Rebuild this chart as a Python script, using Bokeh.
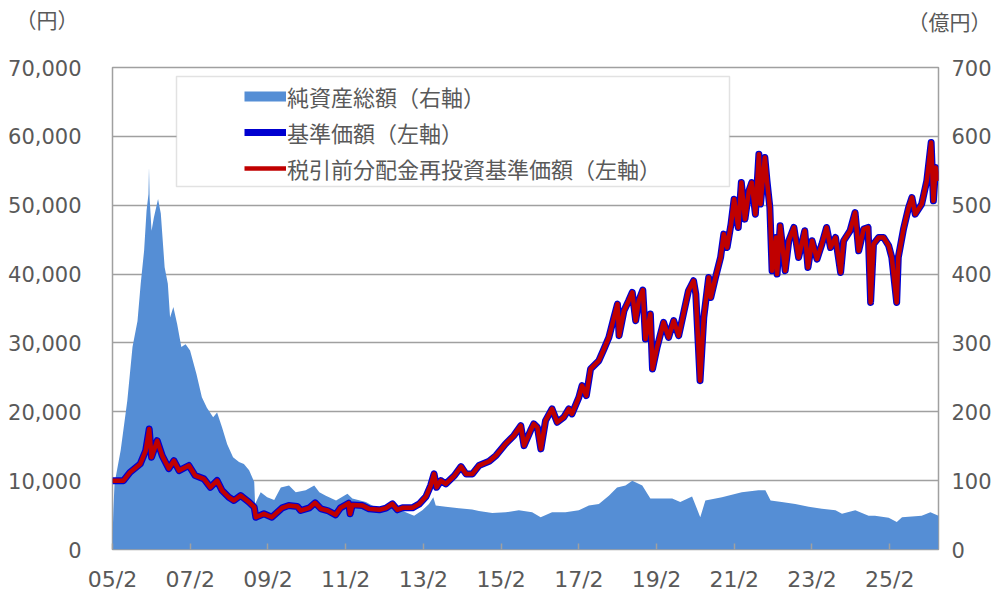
import pandas as pd
from bokeh.plotting import figure
from bokeh.models import (Range1d, LinearAxis, FixedTicker, NumeralTickFormatter,
                          Legend, LegendItem, Label, BoxAnnotation, ColumnDataSource)
from bokeh.embed import file_html
from bokeh.resources import INLINE

# ---------------- data ----------------
nav_dates = [
    "2005-02-01", "2005-05-15", "2005-07-15", "2005-10-20", "2005-12-10", "2006-01-12",
    "2006-02-03", "2006-03-28", "2006-05-15", "2006-07-15", "2006-09-01", "2006-10-20",
    "2007-01-20", "2007-03-20", "2007-06-10", "2007-08-10", "2007-10-12", "2007-11-28",
    "2008-01-30", "2008-03-18", "2008-05-20", "2008-08-08", "2008-09-25", "2008-10-10",
    "2008-12-25", "2009-03-10", "2009-06-15", "2009-08-15", "2009-11-05", "2009-12-05",
    "2010-02-25", "2010-04-20", "2010-06-15", "2010-08-15", "2010-10-30", "2010-12-15",
    "2011-03-01", "2011-03-15", "2011-04-05", "2011-07-10", "2011-09-10", "2011-12-15",
    "2012-02-15", "2012-04-15", "2012-06-01", "2012-07-20", "2012-10-20", "2012-12-25",
    "2013-02-25", "2013-04-10", "2013-05-12", "2013-06-05", "2013-07-15", "2013-08-30",
    "2013-11-20", "2014-01-20", "2014-03-08", "2014-05-08", "2014-07-08", "2014-10-12",
    "2014-12-15", "2015-03-15", "2015-06-01", "2015-08-05", "2015-09-05", "2015-11-05",
    "2015-12-05", "2016-01-08", "2016-02-10", "2016-03-25", "2016-05-25", "2016-07-12",
    "2016-09-12", "2016-10-30", "2016-11-28", "2017-02-01", "2017-03-03", "2017-04-12",
    "2017-05-22", "2017-08-08", "2017-09-25", "2017-11-10", "2017-12-28", "2018-01-30",
    "2018-02-14", "2018-04-01", "2018-05-15", "2018-06-18", "2018-07-20", "2018-08-18",
    "2018-09-25", "2018-10-20", "2018-12-05", "2018-12-25", "2019-02-06", "2019-04-08",
    "2019-05-25", "2019-07-12", "2019-08-28", "2019-10-15", "2019-11-28", "2020-01-15",
    "2020-02-05", "2020-03-16", "2020-04-20", "2020-06-05", "2020-06-25", "2020-08-08",
    "2020-09-25", "2020-10-25", "2020-11-25", "2021-01-01", "2021-01-30", "2021-03-10",
    "2021-04-08", "2021-05-12", "2021-06-18", "2021-07-15", "2021-08-18", "2021-09-20",
    "2021-10-05", "2021-11-15", "2021-12-05", "2022-01-01", "2022-01-22", "2022-02-28",
    "2022-03-10", "2022-04-08", "2022-05-25", "2022-06-28", "2022-08-15", "2022-09-28",
    "2022-11-25", "2022-12-25", "2023-02-02", "2023-03-20", "2023-05-05", "2023-06-18",
    "2023-07-25", "2023-09-10", "2023-10-28", "2023-11-25", "2024-01-25", "2024-03-12",
    "2024-04-15", "2024-06-01", "2024-07-12", "2024-08-05", "2024-09-01", "2024-10-20",
    "2024-12-05", "2025-01-22", "2025-02-20", "2025-04-07", "2025-04-22", "2025-06-10",
    "2025-07-28", "2025-08-28", "2025-09-28", "2025-11-28", "2026-01-15", "2026-02-25",
    "2026-03-18", "2026-04-08", "2026-05-05",
]
nav_values = [
    10000, 10000, 11200, 12430, 14360, 17500,
    13400, 15800, 13600, 11750, 12900, 11460,
    12200, 10740, 10260, 9040, 10010, 8560,
    7590, 7110, 7840, 6860, 6140, 4690,
    5180, 4690, 6050, 6380, 6240, 5660,
    6050, 6780, 5900, 5660, 5030, 6050,
    6720, 5180, 6480, 6380, 5900, 5760,
    6000, 6630, 5760, 6050, 6050, 6630,
    7690, 9290, 10980, 9040, 10010, 9530,
    10740, 12040, 10980, 10980, 12190, 12810,
    13640, 15340, 16540, 17990, 15090, 17270,
    18240, 17750, 14610, 18720, 20420, 18470,
    19200, 20420, 19690, 22100, 23800, 22350,
    26220, 27420, 29120, 30810, 33700, 35650,
    31050, 34680, 36130, 37330, 33230, 36130,
    37680, 30570, 34200, 26220, 29360, 32980,
    30810, 33230, 31050, 34440, 37580, 39030,
    37100, 24520, 33700, 39510, 36610, 39510,
    42410, 45800, 43860, 47250, 50880, 46770,
    53290, 47980, 52090, 53290, 48700, 57410,
    50160, 56930, 53540, 49670, 40480, 45310,
    40000, 47010, 40480, 44830, 46770, 42410,
    46290, 40960, 44830, 42180, 44350, 46770,
    43860, 45310, 40240, 44830, 46290, 48940,
    43380, 46530, 46770, 35880, 44350, 45310,
    45310, 44110, 42410, 35880, 42410, 46530,
    49670, 51120, 48700, 50160, 53540, 59100,
    50640, 55470, 53540,
]
# pre-tax reinvested NAV coincides with the NAV in the picture
reinv_values = [
    10000, 10000, 11200, 12430, 14360, 17500,
    13400, 15800, 13600, 11750, 12900, 11460,
    12200, 10740, 10260, 9040, 10010, 8560,
    7590, 7110, 7840, 6860, 6140, 4690,
    5180, 4690, 6050, 6380, 6240, 5660,
    6050, 6780, 5900, 5660, 5030, 6050,
    6720, 5180, 6480, 6380, 5900, 5760,
    6000, 6630, 5760, 6050, 6050, 6630,
    7690, 9290, 10980, 9040, 10010, 9530,
    10740, 12040, 10980, 10980, 12190, 12810,
    13640, 15340, 16540, 17990, 15090, 17270,
    18240, 17750, 14610, 18720, 20420, 18470,
    19200, 20420, 19690, 22100, 23800, 22350,
    26220, 27420, 29120, 30810, 33700, 35650,
    31050, 34680, 36130, 37330, 33230, 36130,
    37680, 30570, 34200, 26220, 29360, 32980,
    30810, 33230, 31050, 34440, 37580, 39030,
    37100, 24520, 33700, 39510, 36610, 39510,
    42410, 45800, 43860, 47250, 50880, 46770,
    53290, 47980, 52090, 53290, 48700, 57410,
    50160, 56930, 53540, 49670, 40480, 45310,
    40000, 47010, 40480, 44830, 46770, 42410,
    46290, 40960, 44830, 42180, 44350, 46770,
    43860, 45310, 40240, 44830, 46290, 48940,
    43380, 46530, 46770, 35880, 44350, 45310,
    45310, 44110, 42410, 35880, 42410, 46530,
    49670, 51120, 48700, 50160, 53540, 59100,
    50640, 55470, 53540,
]

asset_dates = [
    "2005-02-01", "2005-02-10", "2005-02-20", "2005-04-19", "2005-06-20", "2005-08-08",
    "2005-09-24", "2005-10-24", "2005-11-25", "2005-12-18", "2006-01-05", "2006-01-10",
    "2006-01-16", "2006-02-03", "2006-02-25", "2006-04-05", "2006-05-01", "2006-06-06",
    "2006-07-06", "2006-07-27", "2006-08-27", "2006-10-02", "2006-11-10", "2006-12-20",
    "2007-01-31", "2007-04-01", "2007-05-22", "2007-07-08", "2007-09-05", "2007-10-12",
    "2007-11-28", "2008-01-15", "2008-03-10", "2008-05-05", "2008-06-20", "2008-08-08",
    "2008-09-25", "2008-10-03", "2008-11-25", "2009-01-25", "2009-04-01", "2009-06-02",
    "2009-08-18", "2009-10-20", "2010-01-22", "2010-04-12", "2010-05-30", "2010-07-30",
    "2010-11-03", "2011-02-18", "2011-04-05", "2011-08-10", "2011-11-12", "2012-02-15",
    "2012-06-18", "2012-08-18", "2012-11-06", "2013-01-22", "2013-03-25", "2013-05-05",
    "2013-05-28", "2013-08-30", "2014-01-01", "2014-05-05", "2014-07-08", "2014-11-10",
    "2015-03-15", "2015-07-18", "2015-11-20", "2016-02-08", "2016-05-25", "2016-09-28",
    "2017-02-01", "2017-05-06", "2017-08-08", "2017-11-10", "2018-01-26", "2018-04-15",
    "2018-06-18", "2018-09-20", "2018-12-05", "2019-02-20", "2019-06-28", "2019-09-12",
    "2020-01-01", "2020-03-18", "2020-05-05", "2020-10-08", "2021-04-12", "2021-09-16",
    "2021-11-20", "2022-01-08", "2022-04-22", "2022-08-28", "2023-01-01", "2023-05-05",
    "2023-09-10", "2023-11-10", "2024-03-14", "2024-07-17", "2024-09-15", "2025-01-22",
    "2025-04-08", "2025-05-27", "2025-11-28", "2026-02-18", "2026-05-05",
]
asset_values = [
    15, 60, 96, 144, 216, 294,
    332, 386, 434, 492, 516, 555,
    510, 463, 482, 509, 488, 410,
    386, 337, 352, 327, 294, 298,
    289, 255, 221, 206, 192, 199,
    177, 153, 134, 127, 124, 115,
    98, 66, 83, 76, 72, 90,
    93, 83, 86, 93, 83, 78,
    71, 81, 74, 69, 61, 62,
    59, 54, 49, 57, 66, 76,
    64, 62, 60, 58, 56, 53,
    54, 57, 54, 47, 54, 54,
    57, 64, 66, 78, 90, 93,
    100, 93, 74, 74, 74, 69,
    77, 47, 71, 76, 83, 86,
    86, 71, 69, 66, 62, 59,
    57, 52, 57, 49, 49, 46,
    40, 47, 49, 54, 49,
]

tick_dates = ["2005-02-01", "2007-02-01", "2009-02-01", "2011-02-01", "2013-02-01", "2015-02-01",
              "2017-02-01", "2019-02-01", "2021-02-01", "2023-02-01", "2025-02-01"]
tick_labels = ["05/2", "07/2", "09/2", "11/2", "13/2", "15/2", "17/2", "19/2", "21/2", "23/2", "25/2"]
left_ticks = [0, 10000, 20000, 30000, 40000, 50000, 60000, 70000]
right_ticks = [0, 100, 200, 300, 400, 500, 600, 700]
legend_labels = ["純資産総額（右軸）", "基準価額（左軸）", "税引前分配金再投資基準価額（左軸）"]
left_unit = "（円）"
right_unit = "（億円）"

# ---------------- styles / layout ----------------
TXT = "#595959"
RULE = "#A0A0A0"
AREA = "#558ED5"
BLUE = "#0000D0"
RED = "#C00000"
NUM_FONT = "DejaVu Sans"
JP_FONT = "Noto Sans CJK JP"

W, H = 994, 595
FL, FT, FR, FB = 112, 67, 54, 46          # borders around the plot frame
FW, FH = W - FL - FR, H - FT - FB          # frame size in px


def ms(d):
    return pd.Timestamp(d).value / 1e6


nav_src = ColumnDataSource(dict(x=pd.to_datetime(nav_dates), nav=nav_values, reinv=reinv_values))
asset_src = ColumnDataSource(dict(x=pd.to_datetime(asset_dates), y=asset_values))

x_start = ms("2005-02-01")
x_end = ms(nav_dates[-1])
Y_MAX = 70000

p = figure(width=W, height=H, x_axis_type="datetime",
           x_range=Range1d(x_start, x_end), y_range=Range1d(0, Y_MAX),
           output_backend="svg", toolbar_location=None,
           min_border_left=FL, min_border_right=FR, min_border_top=FT, min_border_bottom=FB,
           background_fill_color="white", border_fill_color="white")
p.extra_y_ranges = {"right": Range1d(0, 700)}

# renderers
area = p.varea(x="x", y1=0, y2="y", source=asset_src, fill_color=AREA, y_range_name="right")
blue = p.line("x", "nav", source=nav_src, line_color=BLUE, line_width=7, line_join="round")
red = p.line("x", "reinv", source=nav_src, line_color=RED, line_width=4.5, line_join="round")
# legend swatch for the area: hidden renderer of the same data, shown only in the legend
area_key = p.line("x", "y", source=asset_src, y_range_name="right", line_color=AREA,
                  line_width=10, line_cap="butt", visible=False)

# frame & grid
p.outline_line_color = RULE
p.outline_line_width = 1.5
p.xgrid.visible = False
p.ygrid.ticker = FixedTicker(ticks=left_ticks)
p.ygrid.grid_line_color = RULE
p.ygrid.grid_line_width = 1.5

# x axis
xa = p.xaxis[0]
xa.ticker = FixedTicker(ticks=[ms(d) for d in tick_dates])
xa.major_label_overrides = {ms(d): lab for d, lab in zip(tick_dates, tick_labels)}
xa.axis_line_color = None
xa.major_tick_in = 6
xa.major_tick_out = 0
xa.major_tick_line_color = RULE
xa.major_tick_line_width = 1.5
xa.minor_tick_line_color = None
xa.major_label_standoff = 17
xa.major_label_text_font = NUM_FONT
xa.major_label_text_font_size = "22px"
xa.major_label_text_color = TXT

# left axis
ya = p.yaxis[0]
ya.ticker = FixedTicker(ticks=left_ticks)
ya.formatter = NumeralTickFormatter(format="0,0")
ya.axis_line_color = None
ya.major_tick_line_color = None
ya.minor_tick_line_color = None
ya.major_label_standoff = 25
ya.major_label_text_font = NUM_FONT
ya.major_label_text_font_size = "21px"
ya.major_label_text_color = TXT

# right axis
ra = LinearAxis(y_range_name="right", ticker=FixedTicker(ticks=right_ticks))
ra.axis_line_color = None
ra.major_tick_line_color = None
ra.minor_tick_line_color = None
ra.major_tick_in = 0
ra.major_tick_out = 0
ra.minor_tick_in = 0
ra.minor_tick_out = 0
ra.major_label_standoff = 13
ra.major_label_text_font = NUM_FONT
ra.major_label_text_font_size = "21px"
ra.major_label_text_color = TXT
p.add_layout(ra, "right")

# unit labels in the top border panel (screen px relative to their panel);
# the second label's panel sits one text row (~30px) above the first one
p.add_layout(Label(x=15 - FL, y=FT - 18, x_units="screen", y_units="screen",
                   text=left_unit, text_font=JP_FONT, text_font_size="21px",
                   text_color=TXT, text_baseline="middle"), "above")
p.add_layout(Label(x=W - FL - 87, y=FT - 20 - 30, x_units="screen", y_units="screen",
                   text=right_unit, text_font=JP_FONT, text_font_size="21px",
                   text_color=TXT, text_baseline="middle"), "above")

# legend box + legend
box = BoxAnnotation(left=64, right=617, top=FH - 9, bottom=FH - 119,
                    left_units="screen", right_units="screen",
                    top_units="screen", bottom_units="screen",
                    fill_color="white", fill_alpha=1.0, line_color=RULE, line_width=1.5,
                    level="annotation")
p.add_layout(box)

legend = Legend(items=[LegendItem(label=legend_labels[0], renderers=[area_key]),
                       LegendItem(label=legend_labels[1], renderers=[blue]),
                       LegendItem(label=legend_labels[2], renderers=[red])],
                location=(132, FH - 117), padding=0, spacing=4, margin=0,
                glyph_width=42, glyph_height=30, label_height=30, label_standoff=1,
                label_text_font=JP_FONT, label_text_font_size="22px",
                label_text_color=TXT, border_line_color=None, background_fill_alpha=0,
                inactive_fill_alpha=0, click_policy="none")
p.add_layout(legend)

open("out.html", "w", encoding="utf-8").write(file_html(p, INLINE))
